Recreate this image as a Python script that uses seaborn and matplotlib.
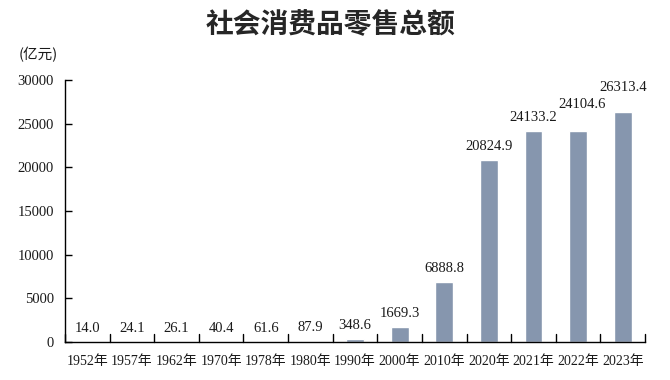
import matplotlib
matplotlib.use("Agg")
import matplotlib.pyplot as plt
import seaborn as sns
import pandas as pd

years = ["1952年", "1957年", "1962年", "1970年", "1978年", "1980年", "1990年",
         "2000年", "2010年", "2020年", "2021年", "2022年", "2023年"]
values = [14.0, 24.1, 26.1, 40.4, 61.6, 87.9, 348.6,
          1669.3, 6888.8, 20824.9, 24133.2, 24104.6, 26313.4]
yticks = [0, 5000, 10000, 15000, 20000, 25000, 30000]
title = "社会消费品零售总额"
unit = "(亿元)"

# label placement tweaks (points): extra (dx, dy) for crowded labels
label_shift = {"2022年": (3, 10), "2023年": (0, 8)}

sns.set_theme(style="white")
plt.rcParams['font.family'] = ['Liberation Serif', 'Noto Sans CJK SC', 'DejaVu Sans']

df = pd.DataFrame({"year": years, "value": values})

fig = plt.figure(figsize=(6.7, 3.8), dpi=100)
ax = fig.add_axes([65/670, 1 - 342/380, 580/670, 262/380])
sns.barplot(data=df, x="year", y="value", color="#8696AE", width=0.4,
            saturation=1, ax=ax)

ax.set_ylim(0, 30000)
ax.set_xlim(-0.5, len(years) - 0.5)
ax.set_yticks(yticks)
ax.set_yticklabels([str(v) for v in yticks], fontsize=10.5, color="#1a1a1a")
ax.set_xticks(range(len(years)))
ax.set_xticklabels(years, fontsize=10, color="#1a1a1a")
ax.tick_params(axis='x', length=0, pad=9)
ax.tick_params(axis='y', direction='in', length=5, width=1, color='black', pad=8, left=True)
# boundary ticks on x axis
for b in [i + 0.5 for i in range(-1, len(years))]:
    ax.plot([b, b], [0, 900], color='black', lw=1, clip_on=False)
ax.set_xlabel("")
ax.set_ylabel("")
for s in ['top', 'right']:
    ax.spines[s].set_visible(False)
for s in ['left', 'bottom']:
    ax.spines[s].set_color('black')
    ax.spines[s].set_linewidth(1)

for i, (y, v) in enumerate(zip(years, values)):
    dx, dy = label_shift.get(y, (0, 0))
    ax.annotate(f"{v:.1f}", (i, v), xytext=(dx, 5 + dy), textcoords='offset points',
                ha='center', va='bottom', fontsize=10.5, color="#1a1a1a")

fig.text(330/670, 1 - 25/380, title, ha='center', va='center', fontsize=20,
         fontweight='bold', family=['Noto Sans CJK SC'])
fig.text(19/670, 1 - 55/380, unit, ha='left', va='center', fontsize=10.5,
         family=['Noto Sans CJK SC'], color="#1a1a1a")

fig.savefig("out.png", dpi=100)
